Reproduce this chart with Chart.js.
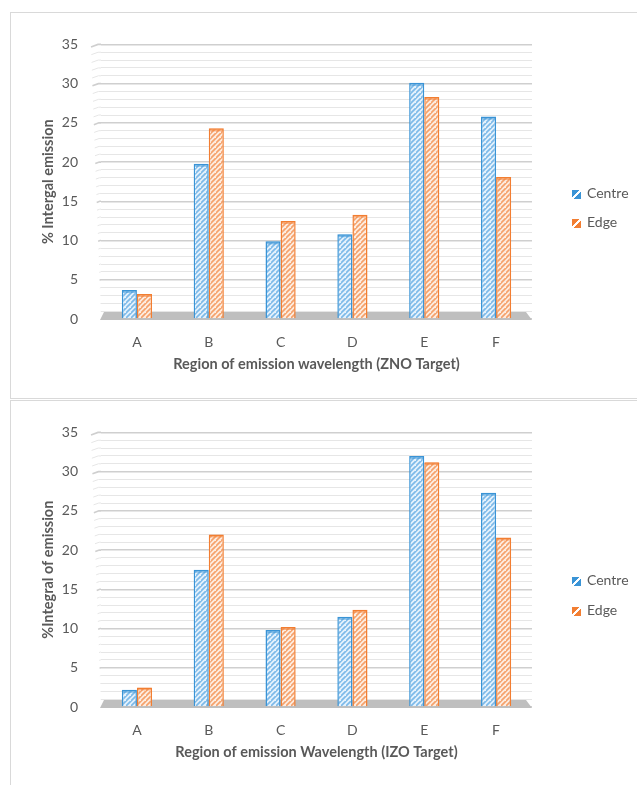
<!DOCTYPE html>
<html>
<head>
<meta charset="utf-8">
<script src="https://cdn.jsdelivr.net/npm/chart.js@4/dist/chart.umd.min.js"></script>
<style>
  html, body { margin: 0; padding: 0; background: #fff; width: 637px; height: 785px; overflow: hidden; font-family: Lato, "Open Sans", sans-serif; }
  .panel { position: absolute; left: 10px; width: 660px; border: 1px solid #d9d9d9; box-sizing: border-box; background: #fff; }
  #p1 { top: 12px; height: 387px; }
  #p2 { top: 400px; height: 420px; }
  .wrap { position: absolute; left: 0; top: 0; width: 626px; }
  #p1 .wrap { height: 385px; }
  #p2 .wrap { height: 384px; }
  .legend { position: absolute; left: 561px; top: 0; font-size: 14px; color: #595959; }
  .item { position: absolute; left: 0; width: 80px; height: 18px; line-height: 18px; white-space: nowrap; }
  .sw { display: inline-block; width: 9px; height: 9px; margin-right: 6px; vertical-align: -1px; }
  .sw.c { background: linear-gradient(135deg, #3A94D6 42%, #fff 42%, #fff 58%, #3A94D6 58%); }
  .sw.e { background: linear-gradient(135deg, #F27E32 42%, #fff 42%, #fff 58%, #F27E32 58%); }
</style>
</head>
<body>
<div class="panel" id="p1">
  <div class="wrap"><canvas id="c1"></canvas></div>
  <div class="legend">
    <div class="item" style="top:171px"><span class="sw c"></span>Centre</div>
    <div class="item" style="top:200px"><span class="sw e"></span>Edge</div>
  </div>
</div>
<div class="panel" id="p2">
  <div class="wrap"><canvas id="c2"></canvas></div>
  <div class="legend">
    <div class="item" style="top:170px"><span class="sw c"></span>Centre</div>
    <div class="item" style="top:200px"><span class="sw e"></span>Edge</div>
  </div>
</div>
<script>
// Emission regions and share of integral emission (%) per target
const categories = ['A', 'B', 'C', 'D', 'E', 'F'];
const seriesNames = ['Centre', 'Edge'];
const znoCentre = [3.7, 19.8, 9.9, 10.8, 30.1, 25.8];
const znoEdge   = [3.2, 24.3, 12.5, 13.3, 28.3, 18.1];
const izoCentre = [2.2, 17.5, 9.8, 11.5, 32.0, 27.3];
const izoEdge   = [2.5, 22.0, 10.2, 12.4, 31.2, 21.6];
const yTickLabels = [0, 5, 10, 15, 20, 25, 30, 35];

const TEXT = '#595959';
const FONT = 'Lato, "Open Sans", sans-serif';
const MAJOR = '#cfcfcf';
const MINOR = '#e6e6e6';

function hatch(bg, line) {
  const s = 5;
  const c = document.createElement('canvas');
  c.width = s; c.height = s;
  const g = c.getContext('2d');
  g.fillStyle = bg; g.fillRect(0, 0, s, s);
  g.strokeStyle = line; g.lineWidth = 1.7;
  g.beginPath();
  g.moveTo(-1, s + 1); g.lineTo(s + 1, -1);
  g.moveTo(-s - 1, s + 1); g.lineTo(1, -1);
  g.moveTo(s - 1, 2 * s + 1); g.lineTo(2 * s + 1, s - 1);
  g.stroke();
  return g.createPattern(c, 'repeat');
}

const centreFill = hatch('#E4F1FC', '#7DBAE9');
const edgeFill = hatch('#FDECE0', '#F5A26C');

// Grey floor slab and the bent left ends of the wall gridlines
const wallPlugin = {
  id: 'wall',
  beforeDatasetsDraw(chart) {
    const { ctx, chartArea: a, scales: { y } } = chart;
    ctx.save();
    for (let v = 0; v <= 35; v++) {
      const py = y.getPixelForValue(v);
      const f = v / 35;
      ctx.strokeStyle = v % 5 === 0 ? MAJOR : MINOR;
      ctx.lineWidth = v % 5 === 0 ? 1.6 : 1;
      ctx.beginPath();
      ctx.moveTo(a.left - 10 * f, py + 2.5 * f);
      ctx.lineTo(a.left - 3 * f, py);
      ctx.lineTo(a.left, py);
      ctx.stroke();
    }
    const y0 = y.getPixelForValue(0);
    ctx.fillStyle = '#bfbfbf';
    ctx.beginPath();
    ctx.moveTo(a.left + 3, y0 - 7);
    ctx.lineTo(a.right - 6, y0 - 7);
    ctx.lineTo(a.right, y0 + 1);
    ctx.lineTo(a.left - 1, y0 + 1);
    ctx.closePath();
    ctx.fill();
    ctx.restore();
  },
  afterDatasetsDraw(chart) {
    const { ctx } = chart;
    ctx.save();
    chart.data.datasets.forEach((ds, i) => {
      const meta = chart.getDatasetMeta(i);
      meta.data.forEach(bar => {
        const w = bar.width;
        ctx.fillStyle = ds.capColor;
        ctx.fillRect(bar.x - w / 2 + 1, bar.y + 0.5, w - 2, 2.5);
      });
    });
    ctx.restore();
  }
};

function makeChart(id, centre, edge, yTitle, xTitle, padTop, padBottom) {
  return new Chart(document.getElementById(id), {
    type: 'bar',
    data: {
      labels: categories,
      datasets: [
        { label: seriesNames[0], data: centre, backgroundColor: centreFill, borderColor: '#3A94D6', borderWidth: 1.5, capColor: 'rgba(58,148,214,0.55)' },
        { label: seriesNames[1], data: edge, backgroundColor: edgeFill, borderColor: '#F27E32', borderWidth: 1.5, capColor: 'rgba(242,126,50,0.55)' }
      ]
    },
    options: {
      responsive: true,
      maintainAspectRatio: false,
      animation: false,
      events: [],
      datasets: { bar: { categoryPercentage: 0.42, barPercentage: 1.0 } },
      layout: { padding: { left: 0, right: 105, top: padTop, bottom: padBottom } },
      plugins: { legend: { display: false }, tooltip: { enabled: false } },
      scales: {
        x: {
          grid: { display: false },
          border: { display: false },
          ticks: { color: TEXT, font: { family: FONT, size: 14 }, padding: 7 },
          title: { display: true, text: xTitle, color: TEXT, font: { family: FONT, size: 14.5, weight: 'bold' }, padding: { top: 0, bottom: 7 } },
          afterFit(s) { s.height = 61; }
        },
        y: {
          min: 0, max: 35,
          ticks: {
            count: 36, autoSkip: false, color: TEXT, padding: 23,
            font: { family: FONT, size: 14 },
            callback: v => yTickLabels.includes(v) ? String(v) : ''
          },
          grid: {
            drawTicks: false,
            color: c => (c.tick && c.tick.value % 5 === 0) ? MAJOR : MINOR,
            lineWidth: c => (c.tick && c.tick.value % 5 === 0) ? 1.6 : 1
          },
          border: { display: false },
          title: { display: true, text: yTitle, color: TEXT, font: { family: FONT, size: 14.5, weight: 'bold' }, padding: { top: 29, bottom: 0 } },
          afterFit(s) { s.width = 90; }
        }
      }
    },
    plugins: [wallPlugin]
  });
}

makeChart('c1', znoCentre, znoEdge, '% Intergal emission', 'Region of emission wavelength (ZNO Target)', 28, 18);
makeChart('c2', izoCentre, izoEdge, '%Integral of emission', 'Region of emission Wavelength (IZO Target)', 29, 17);
</script>
</body>
</html>
